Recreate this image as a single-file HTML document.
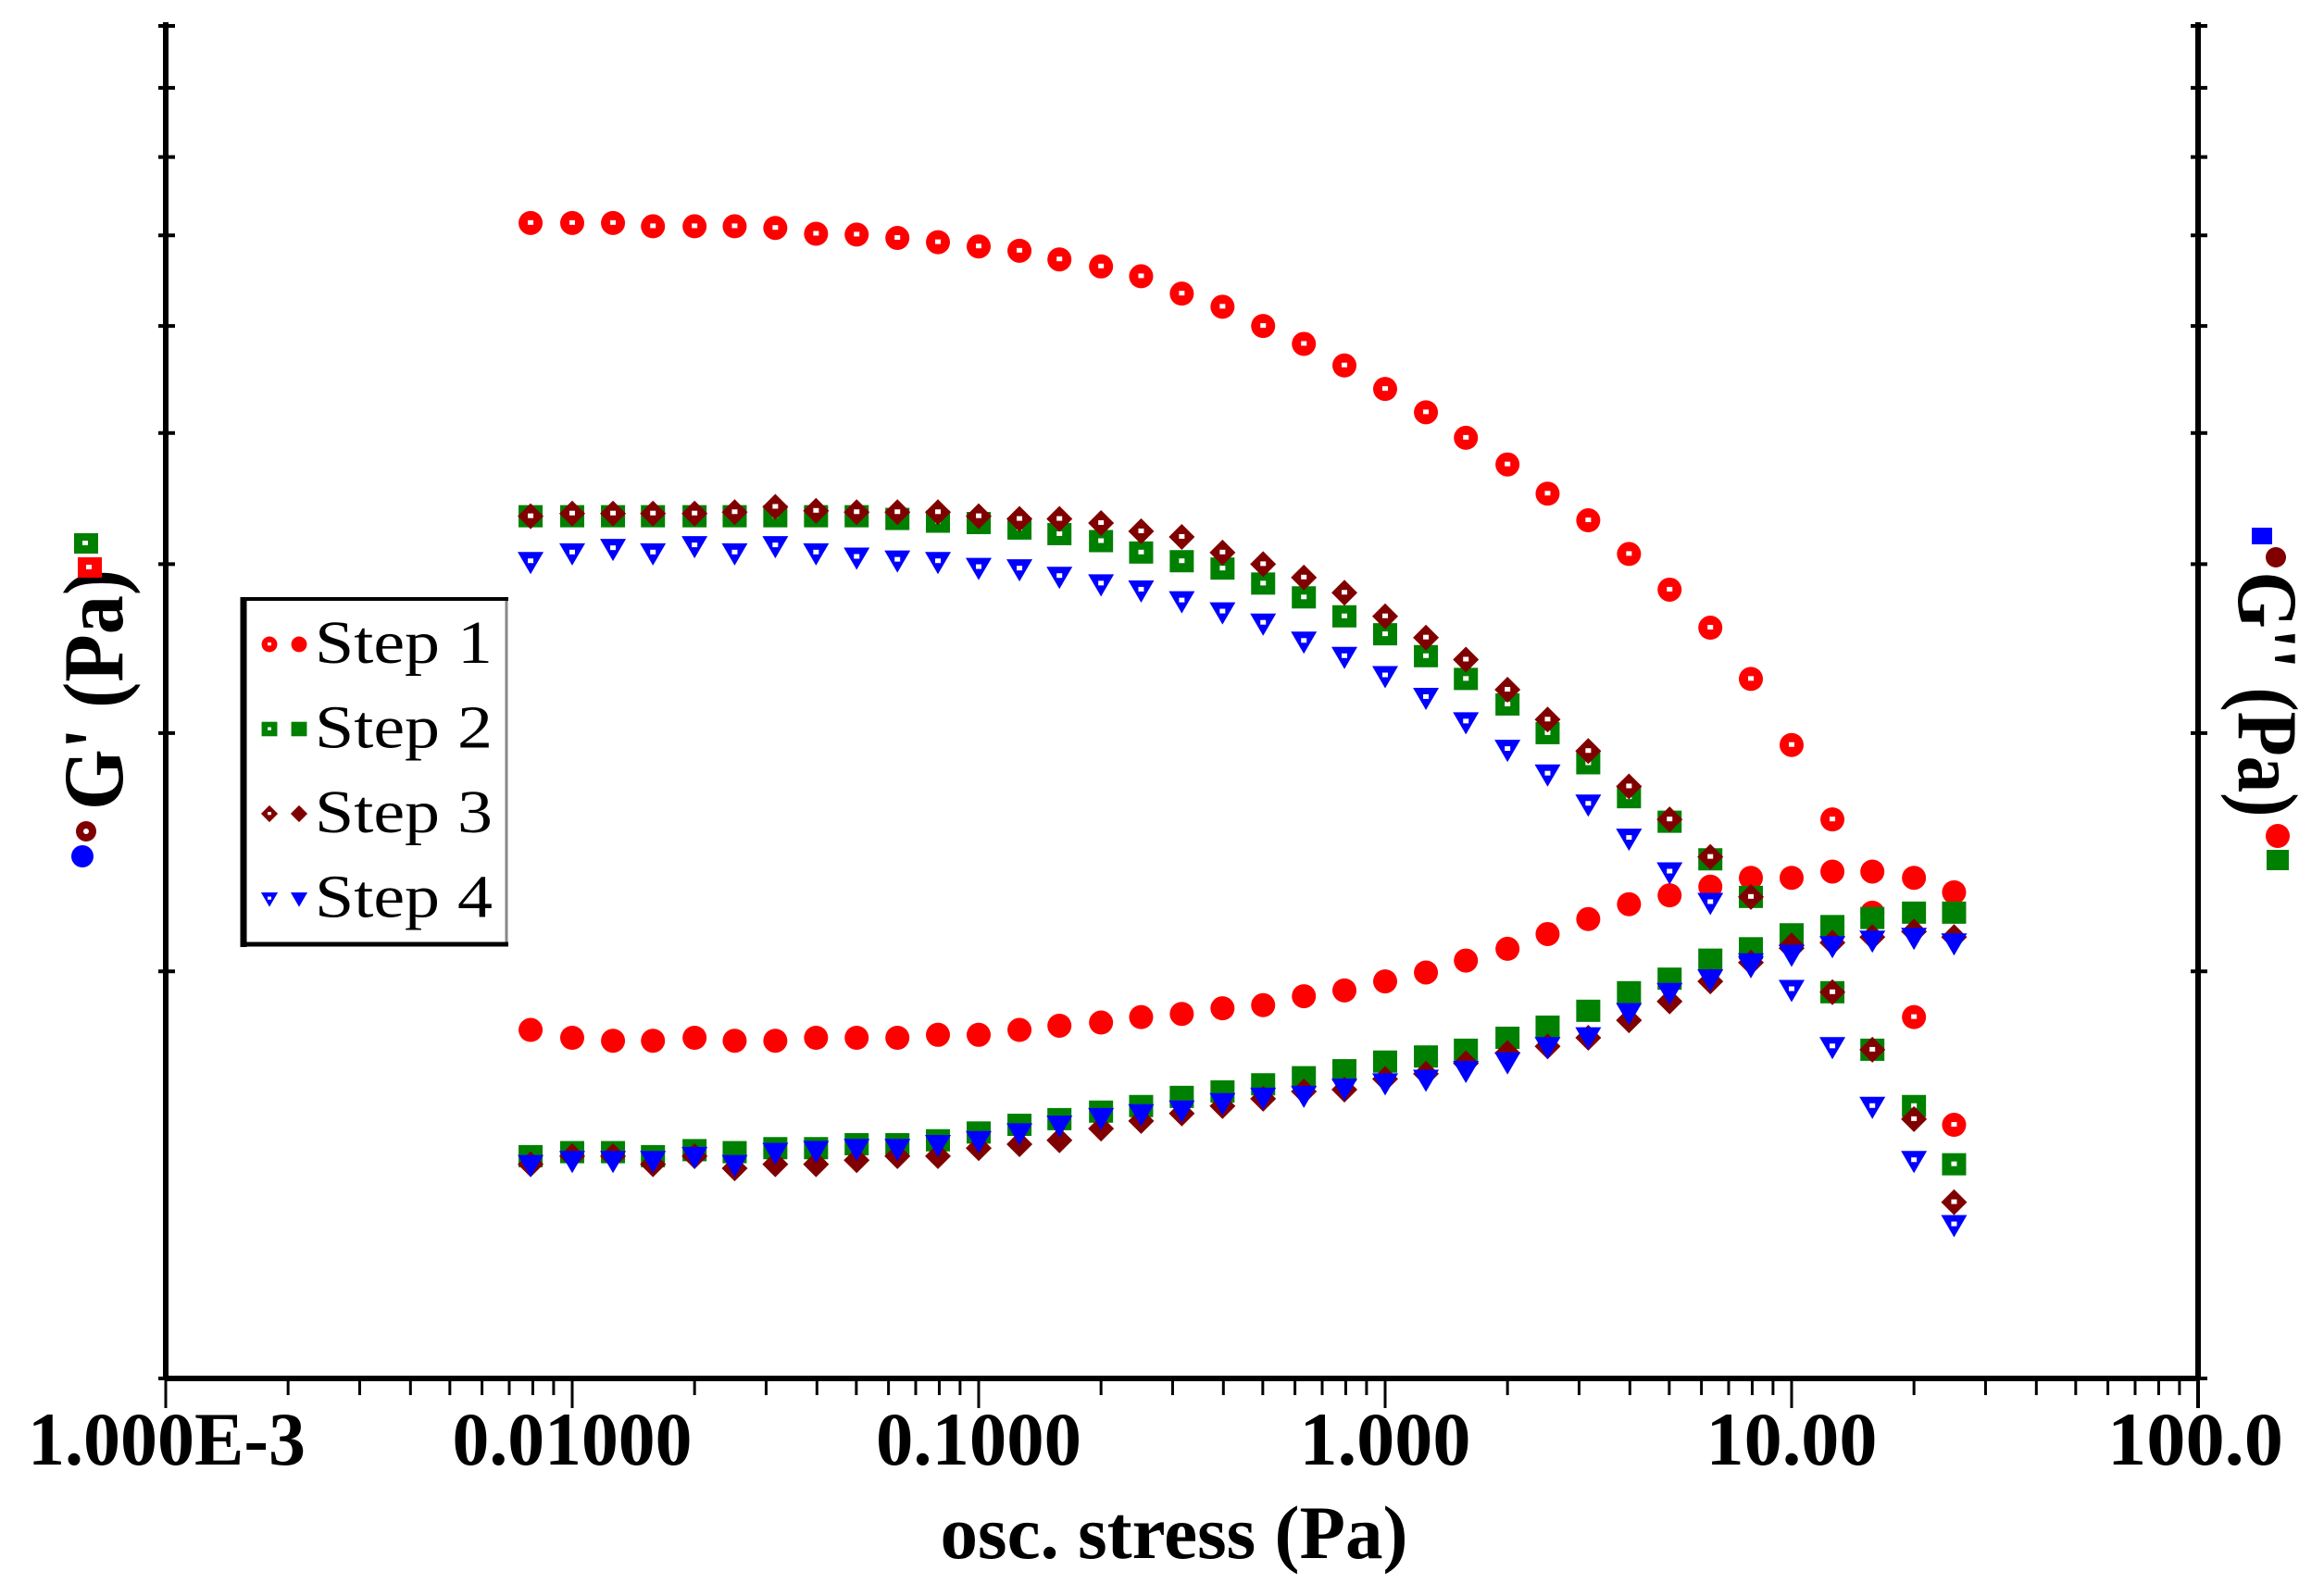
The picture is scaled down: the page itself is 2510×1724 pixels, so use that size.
<!DOCTYPE html>
<html><head><meta charset="utf-8"><style>
html,body{margin:0;padding:0;background:#fff}
svg{display:block}
text{font-family:"Liberation Serif",serif}
</style></head><body>
<svg id="chart" width="2510" height="1724" viewBox="0 0 2510 1724" xmlns="http://www.w3.org/2000/svg">
<g id="axes"></g>
<g id="marks"></g>
<text x="1268" y="1683" text-anchor="middle" font-size="82" font-weight="bold" textLength="505" lengthAdjust="spacingAndGlyphs">osc. stress (Pa)</text>
<g>
  <text x="0" y="0" transform="translate(132,745) rotate(-90)" text-anchor="middle" font-size="92" font-weight="bold" textLength="260" lengthAdjust="spacingAndGlyphs">G' (Pa)</text>
  <rect x="80" y="576" width="26" height="22" fill="#008000"/><rect x="89" y="584" width="6" height="5" fill="#fff"/>
  <rect x="84" y="602" width="26" height="22" fill="#ff0000"/><rect x="93" y="610" width="6" height="5" fill="#fff"/>
  <circle cx="93" cy="898" r="11" fill="#800000"/><circle cx="93" cy="898" r="3" fill="#fff"/>
  <circle cx="89" cy="925" r="12" fill="#0000ff"/>
</g>
<g>
  <text x="0" y="0" transform="translate(2418,750) rotate(90)" text-anchor="middle" font-size="92" font-weight="bold" textLength="265" lengthAdjust="spacingAndGlyphs">G'' (Pa)</text>
  <path d="M2432,570 h22 v18 h-22 z" fill="#0000ff"/>
  <circle cx="2458" cy="602" r="11" fill="#800000"/>
  <circle cx="2460" cy="903" r="13" fill="#ff0000"/>
  <rect x="2448" y="918" width="24" height="22" fill="#008000"/>
</g>
<g id="legend">
  <rect x="263" y="647" width="284" height="374" fill="#fff" stroke="#888" stroke-width="3"/>
  <line x1="263" y1="645" x2="263" y2="1023" stroke="#000" stroke-width="7"/>
  <line x1="260" y1="647" x2="549" y2="647" stroke="#000" stroke-width="4"/>
  <line x1="260" y1="1020" x2="549" y2="1020" stroke="#000" stroke-width="5"/>
</g>
<script>
const xValues=[0.0079,0.01,0.0126,0.0158,0.02,0.0251,0.0316,0.0398,0.0501,0.0631,0.0794,0.1,0.126,0.158,0.2,0.251,0.316,0.398,0.501,0.631,0.794,1,1.26,1.58,2,2.51,3.16,3.98,5.01,6.31,7.94,10,12.6,15.8,20,25.1];
const step1G1=[7.15,7.15,7.15,7.11,7.11,7.11,7.09,7.02,7.01,6.97,6.92,6.87,6.82,6.72,6.64,6.53,6.34,6.20,6.00,5.82,5.61,5.39,5.18,4.96,4.74,4.51,4.31,4.07,3.83,3.59,3.29,2.94,2.59,2.21,1.85,1.54];
const step1G2=[1.81,1.786,1.777,1.777,1.786,1.777,1.777,1.786,1.786,1.786,1.795,1.795,1.81,1.823,1.833,1.85,1.86,1.878,1.888,1.917,1.936,1.966,1.996,2.037,2.078,2.131,2.186,2.242,2.276,2.31,2.345,2.345,2.37,2.37,2.345,2.288];
const step2G1=[4.34,4.34,4.34,4.34,4.34,4.34,4.34,4.34,4.34,4.32,4.30,4.29,4.25,4.21,4.16,4.08,4.02,3.97,3.87,3.78,3.66,3.55,3.42,3.29,3.15,3.00,2.85,2.69,2.58,2.42,2.27,2.13,1.93,1.75,1.59,1.44];
const step2G2=[1.46,1.47,1.47,1.46,1.475,1.47,1.48,1.48,1.49,1.49,1.50,1.52,1.54,1.555,1.575,1.59,1.615,1.63,1.65,1.67,1.69,1.715,1.73,1.75,1.786,1.82,1.87,1.93,1.975,2.04,2.08,2.12,2.16,2.19,2.21,2.21];
const step3G1=[4.34,4.36,4.36,4.36,4.36,4.37,4.41,4.38,4.37,4.37,4.37,4.34,4.32,4.32,4.29,4.23,4.19,4.08,4.00,3.91,3.81,3.66,3.53,3.40,3.23,3.07,2.91,2.74,2.59,2.43,2.27,2.09,1.93,1.75,1.555,1.35];
const step3G2=[1.44,1.46,1.46,1.44,1.46,1.43,1.44,1.44,1.45,1.46,1.46,1.48,1.49,1.50,1.53,1.55,1.57,1.59,1.61,1.63,1.635,1.665,1.68,1.71,1.74,1.76,1.786,1.84,1.90,1.966,2.03,2.08,2.10,2.12,2.14,2.12];
const step4G1=[4.02,4.08,4.11,4.08,4.13,4.08,4.13,4.08,4.05,4.03,4.02,3.98,3.97,3.92,3.87,3.83,3.76,3.69,3.62,3.51,3.42,3.31,3.19,3.06,2.92,2.80,2.66,2.51,2.37,2.25,2.02,1.94,1.76,1.59,1.45,1.30];
const step4G2=[1.44,1.45,1.45,1.45,1.46,1.44,1.47,1.475,1.48,1.48,1.49,1.50,1.52,1.54,1.56,1.57,1.58,1.60,1.615,1.62,1.64,1.655,1.665,1.69,1.715,1.76,1.79,1.865,1.93,1.975,2.03,2.06,2.09,2.11,2.12,2.10];
const xTickLabels=["1.000E-3","0.01000","0.1000","1.000","10.00","100.0"];
const legendLabels=["Step 1","Step 2","Step 3","Step 4"];

const NS="http://www.w3.org/2000/svg";
const X0=179,DEC=439,YB=1489,YD=1461;
function xs(v){return X0+DEC*(Math.log10(v)+3);}
function ys(v){return YB-YD*Math.log10(v);}
function mk(tag,attrs,parent){const e=document.createElementNS(NS,tag);for(const k in attrs)e.setAttribute(k,attrs[k]);parent.appendChild(e);return e;}

const axes=document.getElementById('axes');
let ln=mk('line',{x1:X0,y1:YB,x2:X0+5*DEC,y2:YB,stroke:'#000','stroke-width':6},axes);


for(const xx of [X0,X0+5*DEC]){
  const l=mk('line',{x1:xx,y1:24,x2:xx,y2:YB+2,stroke:'#000','stroke-width':6},axes);
  
  
  for(let m=1;m<=10;m++){
    const y=ys(m);
    const t=mk('line',{x1:xx-8,y1:y,x2:xx+10,y2:y,stroke:'#000','stroke-width':4},axes);
    
    
  }
}
for(let d=0;d<5;d++){
  for(let m=1;m<10;m++){
    const x=X0+DEC*(d+Math.log10(m));
    const t=mk('line',{x1:x,y1:YB,x2:x,y2:YB+(m===1?32:18),stroke:'#000','stroke-width':3},axes);
    
    
  }
}
let tEnd=mk('line',{x1:X0+5*DEC,y1:YB,x2:X0+5*DEC,y2:YB+32,stroke:'#000','stroke-width':4},axes);


xTickLabels.forEach((s,i)=>{
  let x=X0+DEC*i, anchor='middle';
  const t=mk('text',{x:x,y:1582,'text-anchor':anchor,'font-size':82,'font-weight':'bold',textLength:s.length*37,lengthAdjust:'spacingAndGlyphs'},axes);
  if(i===0){t.setAttribute('x',30);t.setAttribute('text-anchor','start');t.setAttribute('textLength',300);}
  if(i===5){t.setAttribute('x',2466);t.setAttribute('text-anchor','end');t.setAttribute('textLength',190);}
  t.textContent=s;
  
  
});

function marker(parent,shape,open,color,cx,cy){
  const g=mk('g',{},parent);
  if(shape==='circle'){mk('circle',{cx:cx,cy:cy,r:13,fill:color},g);}
  else if(shape==='square'){mk('rect',{x:cx-13,y:cy-12,width:26,height:24,fill:color},g);}
  else if(shape==='diamond'){mk('path',{d:`M${cx},${cy-14}L${cx+14},${cy}L${cx},${cy+14}L${cx-14},${cy}Z`,fill:color},g);}
  else {mk('path',{d:`M${cx-14},${cy-10}L${cx+14},${cy-10}L${cx},${cy+14}Z`,fill:color},g);}
  if(open){mk('rect',{x:cx-3,y:cy-3,width:6,height:5,fill:'#fff'},g);}
  return g;
}
const series=[
  {name:'step1-g-prime',vals:step1G1,shape:'circle',open:true,color:'#ff0000'},
  {name:'step1-g-double-prime',vals:step1G2,shape:'circle',open:false,color:'#ff0000'},
  {name:'step2-g-prime',vals:step2G1,shape:'square',open:true,color:'#008000'},
  {name:'step2-g-double-prime',vals:step2G2,shape:'square',open:false,color:'#008000'},
  {name:'step3-g-prime',vals:step3G1,shape:'diamond',open:true,color:'#800000'},
  {name:'step3-g-double-prime',vals:step3G2,shape:'diamond',open:false,color:'#800000'},
  {name:'step4-g-prime',vals:step4G1,shape:'triangle',open:true,color:'#0000ff'},
  {name:'step4-g-double-prime',vals:step4G2,shape:'triangle',open:false,color:'#0000ff'}
];
const marks=document.getElementById('marks');
series.forEach(s=>{
  const g=mk('g',{},marks);
  
  
  s.vals.forEach((v,i)=>{
    const m=marker(g,s.shape,s.open,s.color,xs(xValues[i]),ys(v));
    
    
  });
});

const legend=document.getElementById('legend');
const legShapes=['circle','square','diamond','triangle'];
const legColors=['#ff0000','#008000','#800000','#0000ff'];
legendLabels.forEach((lab,i)=>{
  const y=696+i*91.5;
  const g=mk('g',{},legend);
  
  
  const a=marker(g,legShapes[i],true,legColors[i],291,y);a.setAttribute('transform',`translate(${291*0.35},${y*0.35}) scale(0.65)`);
  const b=marker(g,legShapes[i],false,legColors[i],323,y);b.setAttribute('transform',`translate(${323*0.35},${y*0.35}) scale(0.65)`);
  const t=mk('text',{x:340,y:y+20,'font-size':66,textLength:192,lengthAdjust:'spacingAndGlyphs'},g);
  t.textContent=lab;
});
</script>
</svg>
</body></html>
